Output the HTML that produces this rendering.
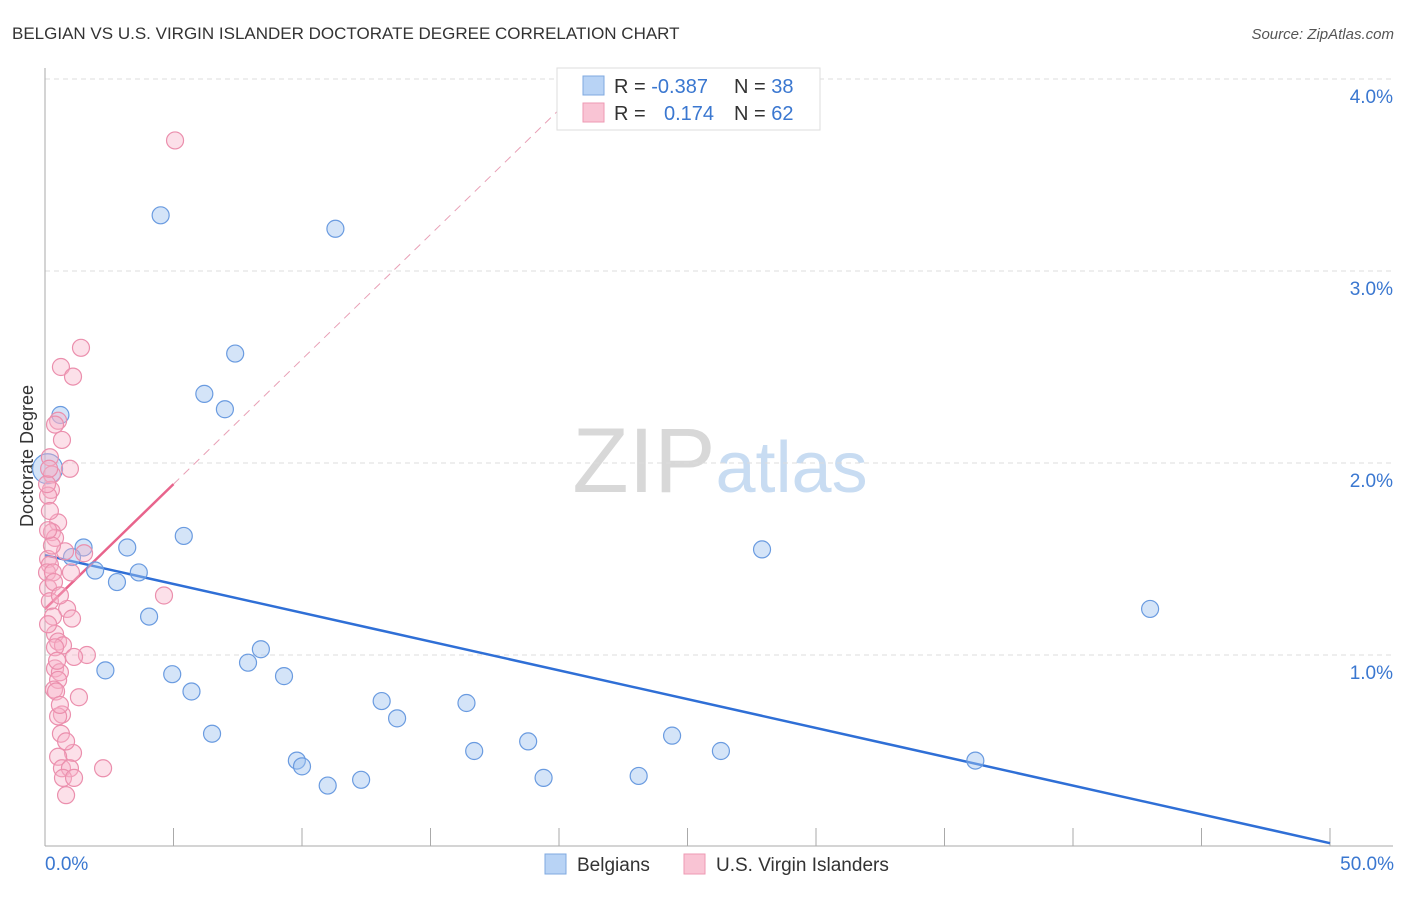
<!DOCTYPE html>
<html><head><meta charset="utf-8"><style>
body{margin:0;background:#fff;font-family:"Liberation Sans",sans-serif}
svg text{font-family:"Liberation Sans",sans-serif}
</style></head><body>
<svg id="c" width="1406" height="892" viewBox="0 0 1406 892" xmlns="http://www.w3.org/2000/svg">
<text x="12" y="39" font-size="17" fill="#333">BELGIAN VS U.S. VIRGIN ISLANDER DOCTORATE DEGREE CORRELATION CHART</text>
<text x="1394" y="39" font-size="15" fill="#555" text-anchor="end" font-style="italic">Source: ZipAtlas.com</text>
<text x="33" y="456" font-size="18" fill="#333" text-anchor="middle" transform="rotate(-90 33 456)">Doctorate Degree</text>
<text x="720" y="492" font-size="92" fill="#ddd" text-anchor="middle" font-family="Liberation Serif"><tspan fill="#d8d8d8">ZIP</tspan><tspan fill="#c8dcf2" font-family="Liberation Sans" font-size="72">atlas</tspan></text>
<g id="grid"></g><g id="axes"></g><g id="lines"></g><g id="pts"></g>
<g>
<rect x="557" y="68" width="263" height="62" fill="#fff" stroke="#ddd"/>
<rect x="583" y="76" width="21" height="19" fill="#b8d3f5" stroke="#7fa9e0"/>
<rect x="583" y="103" width="21" height="19" fill="#f9c4d4" stroke="#ee9ab3"/>
<text x="614" y="93" font-size="20" fill="#333">R = <tspan fill="#3a77d0">-0.387</tspan></text>
<text x="734" y="93" font-size="20" fill="#333">N = <tspan fill="#3a77d0">38</tspan></text>
<text x="614" y="120" font-size="20" fill="#333">R = </text>
<text x="664" y="120" font-size="20" fill="#3a77d0">0.174</text>
<text x="734" y="120" font-size="20" fill="#333">N = <tspan fill="#3a77d0">62</tspan></text>
</g>
<g>
<rect x="545" y="854" width="21" height="20" fill="#b8d3f5" stroke="#7fa9e0"/>
<text x="577" y="871" font-size="19" fill="#333">Belgians</text>
<rect x="684" y="854" width="21" height="20" fill="#f9c4d4" stroke="#ee9ab3"/>
<text x="716" y="871" font-size="19" fill="#333">U.S. Virgin Islanders</text>
</g>
</svg>
<script>
const yTicks=[1,2,3,4];
const yTickLabels=["1.0%","2.0%","3.0%","4.0%"];
const xTicks=[0,5,10,15,20,25,30,35,40,45,50];
const blueX=[4.5,11.3,7.4,6.2,7.0,0.6,0.1,1.5,3.2,5.4,1.05,1.95,2.8,3.65,4.05,2.35,4.95,5.7,7.9,8.4,9.3,6.5,13.1,13.7,16.4,9.8,10.0,11.0,12.3,16.7,18.8,19.4,23.1,24.4,26.3,27.9,43.0,36.2];
const blueY=[3.29,3.22,2.57,2.36,2.28,2.25,1.97,1.56,1.56,1.62,1.51,1.44,1.38,1.43,1.20,0.92,0.90,0.81,0.96,1.03,0.89,0.59,0.76,0.67,0.75,0.45,0.42,0.32,0.35,0.50,0.55,0.36,0.37,0.58,0.50,1.55,1.24,0.45];
const pinkX=[5.06,1.40,0.62,1.09,0.51,0.39,0.66,0.97,0.27,0.23,0.12,0.51,0.27,0.39,1.52,0.78,0.12,0.19,0.08,0.31,1.01,0.12,0.19,0.86,0.31,1.05,0.39,0.51,0.70,0.39,1.63,1.13,0.39,0.58,0.51,0.35,0.43,1.32,0.66,0.51,0.62,1.09,0.51,0.66,0.97,0.70,1.13,0.82,2.26,4.63,0.08,0.19,0.16,0.19,0.12,0.47,0.58,0.82,0.35,0.58,0.27,0.12];
const pinkY=[3.68,2.60,2.50,2.45,2.22,2.20,2.12,1.97,1.94,1.86,1.83,1.69,1.64,1.61,1.53,1.54,1.50,1.47,1.43,1.43,1.43,1.35,1.28,1.24,1.20,1.19,1.11,1.07,1.05,1.04,1.00,0.99,0.93,0.91,0.87,0.82,0.81,0.78,0.69,0.68,0.59,0.49,0.47,0.41,0.41,0.36,0.36,0.27,0.41,1.31,1.89,2.03,1.97,1.75,1.16,0.97,0.74,0.55,1.38,1.31,1.57,1.65];
const blueFit=[1.52,-0.03];
const pinkFit=[1.24,0.13];
const X=v=>45+v*25.7, Y=v=>847-v*192;
const NS="http://www.w3.org/2000/svg";
function mk(t,a,p){const e=document.createElementNS(NS,t);for(const k in a)e.setAttribute(k,a[k]);p.appendChild(e);return e;}
const grid=document.getElementById('grid'),axes=document.getElementById('axes'),lines=document.getElementById('lines'),pts=document.getElementById('pts');
yTicks.forEach((v,i)=>{
 const l=mk('line',{x1:45,x2:1393,y1:Y(v),y2:Y(v),stroke:'#ddd','stroke-dasharray':'5,4'},grid);
 
 
 const t=mk('text',{x:1393,y:Y(v)+24,'font-size':19,fill:'#3a77d0','text-anchor':'end'},grid);t.textContent=yTickLabels[i];
 
 
});
const ya=mk('line',{x1:45,x2:45,y1:68,y2:846,stroke:'#aaa'},axes);


const xa=mk('line',{x1:45,x2:1393,y1:846,y2:846,stroke:'#aaa'},axes);


xTicks.forEach(v=>{const t=mk('line',{x1:X(v),x2:X(v),y1:828,y2:846,stroke:'#aaa'},axes);
 
 });
[[0,'start','0.0%'],[50,'end','50.0%']].forEach(([v,a,s])=>{const t=mk('text',{x:v?1394:45,y:870,'font-size':19,fill:'#3a77d0','text-anchor':a},axes);t.textContent=s;
 
 });
const bl=mk('line',{x1:X(0),y1:Y(blueFit[0]),x2:X(50),y2:Y(blueFit[0]+blueFit[1]*50),stroke:'#2f6fd6','stroke-width':2.5},lines);


const xe=(4.0-pinkFit[0])/pinkFit[1]*0.985;
const pd=mk('line',{x1:X(5),y1:Y(pinkFit[0]+pinkFit[1]*5),x2:X(xe),y2:Y(pinkFit[0]+pinkFit[1]*xe),stroke:'#e8a0b6','stroke-width':1,'stroke-dasharray':'8,6'},lines);


const pl=mk('line',{x1:X(0),y1:Y(pinkFit[0]),x2:X(5),y2:Y(pinkFit[0]+pinkFit[1]*5),stroke:'#e8648c','stroke-width':2.5},lines);


blueX.forEach((v,i)=>{const c=mk('circle',{cx:X(v),cy:Y(blueY[i]),r:i==6?15:8.5,fill:'rgba(160,196,240,0.45)',stroke:'#6a9be0','stroke-width':1.2},pts);
 
 });
pinkX.forEach((v,i)=>{const c=mk('circle',{cx:X(v),cy:Y(pinkY[i]),r:8.5,fill:'rgba(247,178,200,0.4)',stroke:'#eb8fad','stroke-width':1.2},pts);
 
 });
</script>
</body></html>
